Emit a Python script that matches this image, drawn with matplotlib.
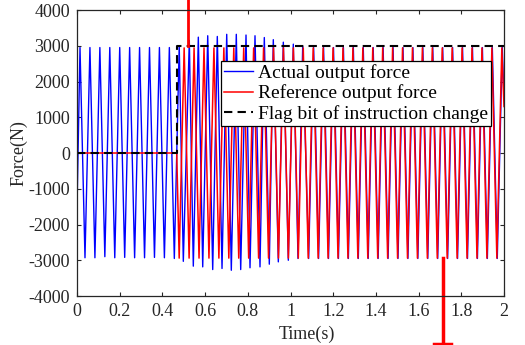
import matplotlib
matplotlib.use('Agg')
import matplotlib.pyplot as plt
import numpy as np

plt.rcParams['font.family'] = ['Liberation Serif', 'DejaVu Serif']
plt.rcParams['axes.unicode_minus'] = False

#~~~~~~~~~~~~~~~~~~~~~~~~~~~~~~~~~~~~~~~~~~~~~~~~~~~~~~~~~~~~~~~
# values (extremes of each half cycle)
#~~~~~~~~~~~~~~~~~~~~~~~~~~~~~~~~~~~~~~~~~~~~~~~~~~~~~~~~~~~~~~~
# actual output force, start-up part and the transient after the change
blue_t = [0.0, 0.014, 0.0373, 0.0605, 0.0838, 0.107, 0.1303, 0.1535, 0.1768,
          0.200, 0.2233, 0.2465, 0.2698, 0.293, 0.3163, 0.3395, 0.3628, 0.386,
          0.4093, 0.4325, 0.4558, 0.4787, 0.4979, 0.526, 0.5447, 0.5682, 0.5888,
          0.6122, 0.6356, 0.6571, 0.6792, 0.7012, 0.7227, 0.7461, 0.7667, 0.7916,
          0.8103, 0.8337, 0.8571, 0.8773, 0.9007, 0.9194, 0.9429, 0.9663, 0.9897,
          1.0131, 1.0351, 1.0571]
blue_v = [-1540, 2950, -2930, 2950, -2930, 2950, -2900, 2950, -2930,
          2950, -2920, 2950, -2930, 2950, -2930, 2950, -2920, 2950,
          -2930, 2950, -2950, 3000, -3030, 3150, -3165, 3240, -3185,
          3280, -3260, 3260, -3230, 3320, -3280, 3320, -3260, 3300,
          -3210, 3280, -3185, 3230, -3110, 3170, -3045, 3100, -3000,
          3045, -2950, 2980]
blue_lag = 0.002      # steady part follows the reference with a small lag
blue_amp = 2950
blue_end = 1500

# reference output force
flag_t = 0.467
red_trough_t = [0.4785, 0.525, 0.5715, 0.618, 0.6645, 0.711, 0.7575, 0.804,
                0.8505, 0.897, 0.9435, 0.99, 1.0365, 1.083, 1.1295, 1.176,
                1.2225, 1.269, 1.3155, 1.362, 1.4085, 1.455, 1.5015, 1.548,
                1.5945, 1.641, 1.6875, 1.734, 1.7805, 1.827, 1.8735, 1.92, 1.9665]
red_peak_t = [0.5018, 0.5483, 0.5948, 0.6413, 0.6878, 0.7343, 0.7808, 0.8273,
              0.8738, 0.9203, 0.9668, 1.0133, 1.0598, 1.1063, 1.1528, 1.1993,
              1.2458, 1.2923, 1.3388, 1.3853, 1.4318, 1.4783, 1.5248, 1.5713,
              1.6178, 1.6643, 1.7108, 1.7573, 1.8038, 1.8503, 1.8968, 1.9433, 1.9898]
red_amp = 2940
red_end = 1300

# flag bit of instruction change
flag_x = [0, flag_t, flag_t, 2.0]
flag_y = [0, 0, 3000, 3000]

# the two red marks that stick out of the axes
mark_top_t, mark_top_y = 0.521, [3000, 4600]
mark_bot_t, mark_bot_y = 1.713, [-2950, -5330]
mark_bot_w = 0.039

#~~~~~~~~~~~~~~~~~~~~~~~~~~~~~~~~~~~~~~~~~~~~~~~~~~~~~~~~~~~~~~~
# build the poly-lines
#~~~~~~~~~~~~~~~~~~~~~~~~~~~~~~~~~~~~~~~~~~~~~~~~~~~~~~~~~~~~~~~
red_x = [0.0, flag_t]
red_y = [0, 0]
for tt, tp in zip(red_trough_t, red_peak_t):
    red_x += [tt, tp]
    red_y += [-red_amp, red_amp]
red_x.append(2.0)
red_y.append(red_end)

bx = list(blue_t)
by = list(blue_v)
for tt, tp in zip(red_trough_t, red_peak_t):
    if tt + blue_lag > blue_t[-1]:
        bx += [tt + blue_lag, tp + blue_lag]
        by += [-blue_amp, blue_amp]
bx.append(2.0)
by.append(blue_end)

#~~~~~~~~~~~~~~~~~~~~~~~~~~~~~~~~~~~~~~~~~~~~~~~~~~~~~~~~~~~~~~~
# plot
#~~~~~~~~~~~~~~~~~~~~~~~~~~~~~~~~~~~~~~~~~~~~~~~~~~~~~~~~~~~~~~~
axcol = '#262626'
fig = plt.figure(figsize=(5.25, 3.45), dpi=100)
ax = fig.add_axes([0.1467, 0.142, 0.8133, 0.829])

ax.plot(bx, by, color='b', lw=1.0, label='Actual output force')
ax.plot(red_x, red_y, color='r', lw=1.1, label='Reference output force')
ax.plot(flag_x, flag_y, color='k', lw=1.5, linestyle=(0, (4, 2.5)),
        label='Flag bit of instruction change')

ax.plot([mark_top_t, mark_top_t], mark_top_y, color='r', lw=2, clip_on=False)
ax.plot([mark_bot_t, mark_bot_t], mark_bot_y, color='r', lw=2.5, clip_on=False)
ax.plot([mark_bot_t - mark_bot_w, mark_bot_t + mark_bot_w],
        [mark_bot_y[1], mark_bot_y[1]], color='r', lw=2.5, clip_on=False)

ax.set_xlim(0, 2)
ax.set_ylim(-4000, 4000)
ax.set_xticks(np.arange(0, 2.01, 0.2))
ax.set_xticklabels(['0', '0.2', '0.4', '0.6', '0.8', '1', '1.2', '1.4', '1.6', '1.8', '2'])
ax.set_yticks(np.arange(-4000, 4001, 1000))

ax.tick_params(direction='in', top=True, right=True, length=3, width=0.8,
               labelsize=13, colors=axcol, pad=5)
for s in ax.spines.values():
    s.set_color(axcol)
    s.set_linewidth(0.9)

ax.set_xlabel('Time(s)', fontsize=13, color=axcol)
ax.set_ylabel('Force(N)', fontsize=13, color=axcol)
ax.xaxis.set_label_coords(0.539, -0.103)
ax.yaxis.set_label_coords(-0.117, 0.5)

leg = ax.legend(loc='upper right', bbox_to_anchor=(0.970, 0.822), fontsize=14,
                frameon=True, fancybox=False, borderaxespad=0, borderpad=0.15,
                handlelength=1.5, handletextpad=0.27, labelspacing=0.15)
leg.get_frame().set_edgecolor('k')
leg.get_frame().set_linewidth(0.9)
leg.get_frame().set_alpha(1)

fig.savefig('out.png', dpi=100)
